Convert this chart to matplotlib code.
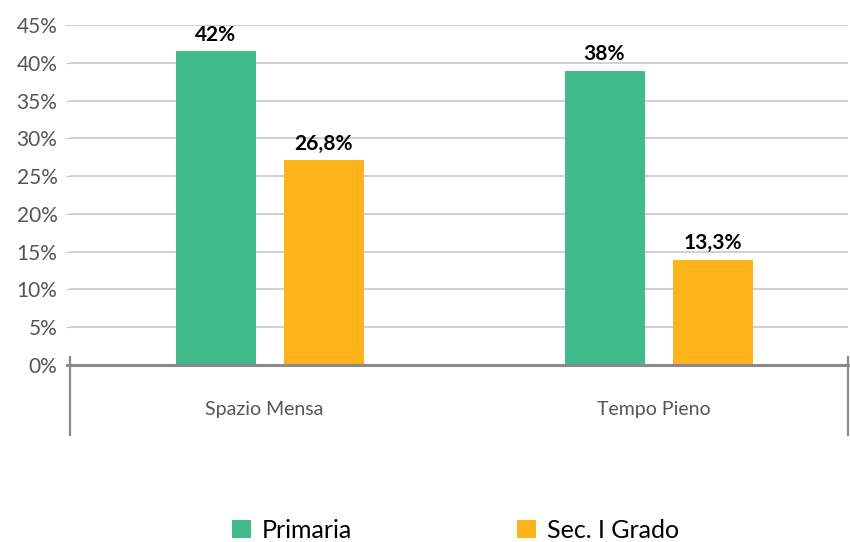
import matplotlib
matplotlib.use("Agg")
from matplotlib import pyplot as plt
import numpy as np

categories = ["Spazio Mensa", "Tempo Pieno"]
series_names = ["Primaria", "Sec. I Grado"]
primaria = [41.5, 38.9]
secondaria = [27.1, 13.9]
primaria_labels = ["42%", "38%"]
secondaria_labels = ["26,8%", "13,3%"]
yticks = [0, 5, 10, 15, 20, 25, 30, 35, 40, 45]

GREEN = "#41BA8C"
ORANGE = "#FDB31A"
GREY_TXT = "#555555"

plt.rcParams["font.family"] = ["Lato", "DejaVu Sans"]

fig = plt.figure(figsize=(8.5, 5.42), dpi=100)
ax = fig.add_axes([70 / 850, 177 / 542, 778 / 850, 340 / 542])

x = np.arange(len(categories))
w = 80 / 389
off = 54 / 389
shift = 5 / 389
b1 = ax.bar(x + shift - off, primaria, w, color=GREEN, label=series_names[0], zorder=3)
b2 = ax.bar(x + shift + off, secondaria, w, color=ORANGE, label=series_names[1], zorder=3)

for bars, labels in ((b1, primaria_labels), (b2, secondaria_labels)):
    for rect, lab in zip(bars, labels):
        ax.annotate(lab, (rect.get_x() + rect.get_width() / 2, rect.get_height()),
                    xytext=(0, 12), textcoords="offset points", ha="center", va="center",
                    fontsize=15, fontweight="bold", color="black")

ax.set_xlim(-0.5, 1.5)
ax.set_ylim(0, 45)
ax.set_yticks(yticks)
ax.set_yticklabels([f"{t}%" for t in yticks], fontsize=15, color=GREY_TXT)
ax.tick_params(axis="y", length=3, color="#c8c8c8", pad=6)
ax.set_xticks([])
ax.grid(axis="y", color="#c8c8c8", lw=1.2, zorder=0)
for s in ax.spines.values():
    s.set_visible(False)

# x axis line and category separators
ax.axhline(0, color="#8a8a8a", lw=2.2, zorder=4, xmin=-0.004, clip_on=False)
trans = ax.transAxes
for xs in (0.0, 1.0):
    ax.plot([xs, xs], [0.0235, -0.206], transform=trans, color="#8a8a8a",
            lw=1.6, clip_on=False, zorder=4)
for i, c in enumerate(categories):
    ax.text(i, -0.132, c, transform=ax.get_xaxis_transform(), ha="center",
            va="center", fontsize=14, color=GREY_TXT)

fig.legend(handles=[b1, b2], labels=series_names, loc="center left",
           bbox_to_anchor=(232 / 850, 12 / 542), ncol=2, frameon=False,
           fontsize=18, handlelength=0.75, handleheight=0.75, handletextpad=0.45,
           columnspacing=6.6, borderpad=0, borderaxespad=0)

fig.savefig("out.png", dpi=100)
